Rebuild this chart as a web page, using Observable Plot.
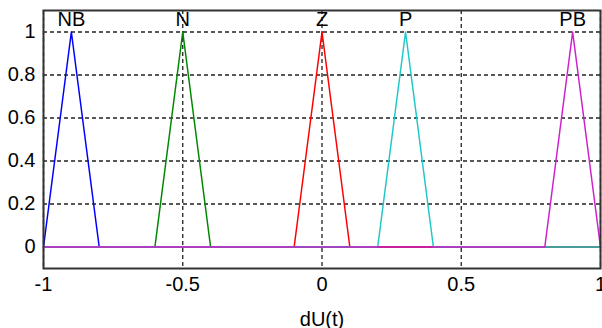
<!DOCTYPE html>
<html>
<head>
<meta charset="utf-8">
<script src="https://cdn.jsdelivr.net/npm/d3@7"></script>
<script src="https://cdn.jsdelivr.net/npm/@observablehq/plot@0.6"></script>
<style>
  html, body { margin: 0; padding: 0; background: #fff; }
</style>
</head>
<body>
<div id="chart"></div>
<script>
const names = ["NB", "N", "Z", "P", "PB"];
const leftFoot = [-1, -0.6, -0.1, 0.2, 0.8];
const peak = [-0.9, -0.5, 0, 0.3, 0.9];
const rightFoot = [-0.8, -0.4, 0.1, 0.4, 1];
const colors = ["#0000ff", "#008800", "#ff0000", "#22c8c8", "#cc22cc"];
const xTicks = [-1, -0.5, 0, 0.5, 1];
const yTicks = [0, 0.2, 0.4, 0.6, 0.8, 1];
const xDomain = [-1, 1];
const yDomain = [-0.1, 1.1];

const lines = [];
names.forEach((n, i) => {
  const pts = [[xDomain[0], 0], [leftFoot[i], 0], [peak[i], 1], [rightFoot[i], 0], [xDomain[1], 0]];
  pts.forEach(([x, y], k) => lines.push({name: n, x, y, k}));
});
const labels = names.map((n, i) => ({name: n, x: peak[i], y: 1}));

const chart = Plot.plot({
  width: 602,
  height: 328,
  marginLeft: 43,
  marginRight: 2,
  marginTop: 10,
  marginBottom: 60,
  style: {fontFamily: "'Liberation Sans', Arial, sans-serif", fontSize: "20px", color: "#000", background: "#fff"},
  x: {domain: xDomain, ticks: xTicks, tickSize: 0, tickPadding: 8, tickFormat: d => String(d), label: "dU(t)", labelAnchor: "center", labelArrow: "none", labelOffset: 57},
  y: {domain: yDomain, ticks: yTicks, tickSize: 0, tickPadding: 8, tickFormat: d => String(d), label: null},
  color: {domain: names, range: colors},
  marks: [
    Plot.gridX(xTicks, {stroke: "#222", strokeOpacity: 1, strokeDasharray: "4,3", strokeWidth: 1.3}),
    Plot.gridY(yTicks, {stroke: "#222", strokeOpacity: 1, strokeDasharray: "4,3", strokeWidth: 1.3}),
    Plot.line(lines, {x: "x", y: "y", z: "name", stroke: "name", strokeWidth: 1.5}),
    Plot.text(labels, {x: "x", y: "y", text: "name", dy: -12, lineAnchor: "middle", textAnchor: "middle", fill: "#000", fontSize: 20}),
    Plot.frame({stroke: "#333", strokeWidth: 2})
  ]
});
document.getElementById("chart").appendChild(chart);
</script>
</body>
</html>
